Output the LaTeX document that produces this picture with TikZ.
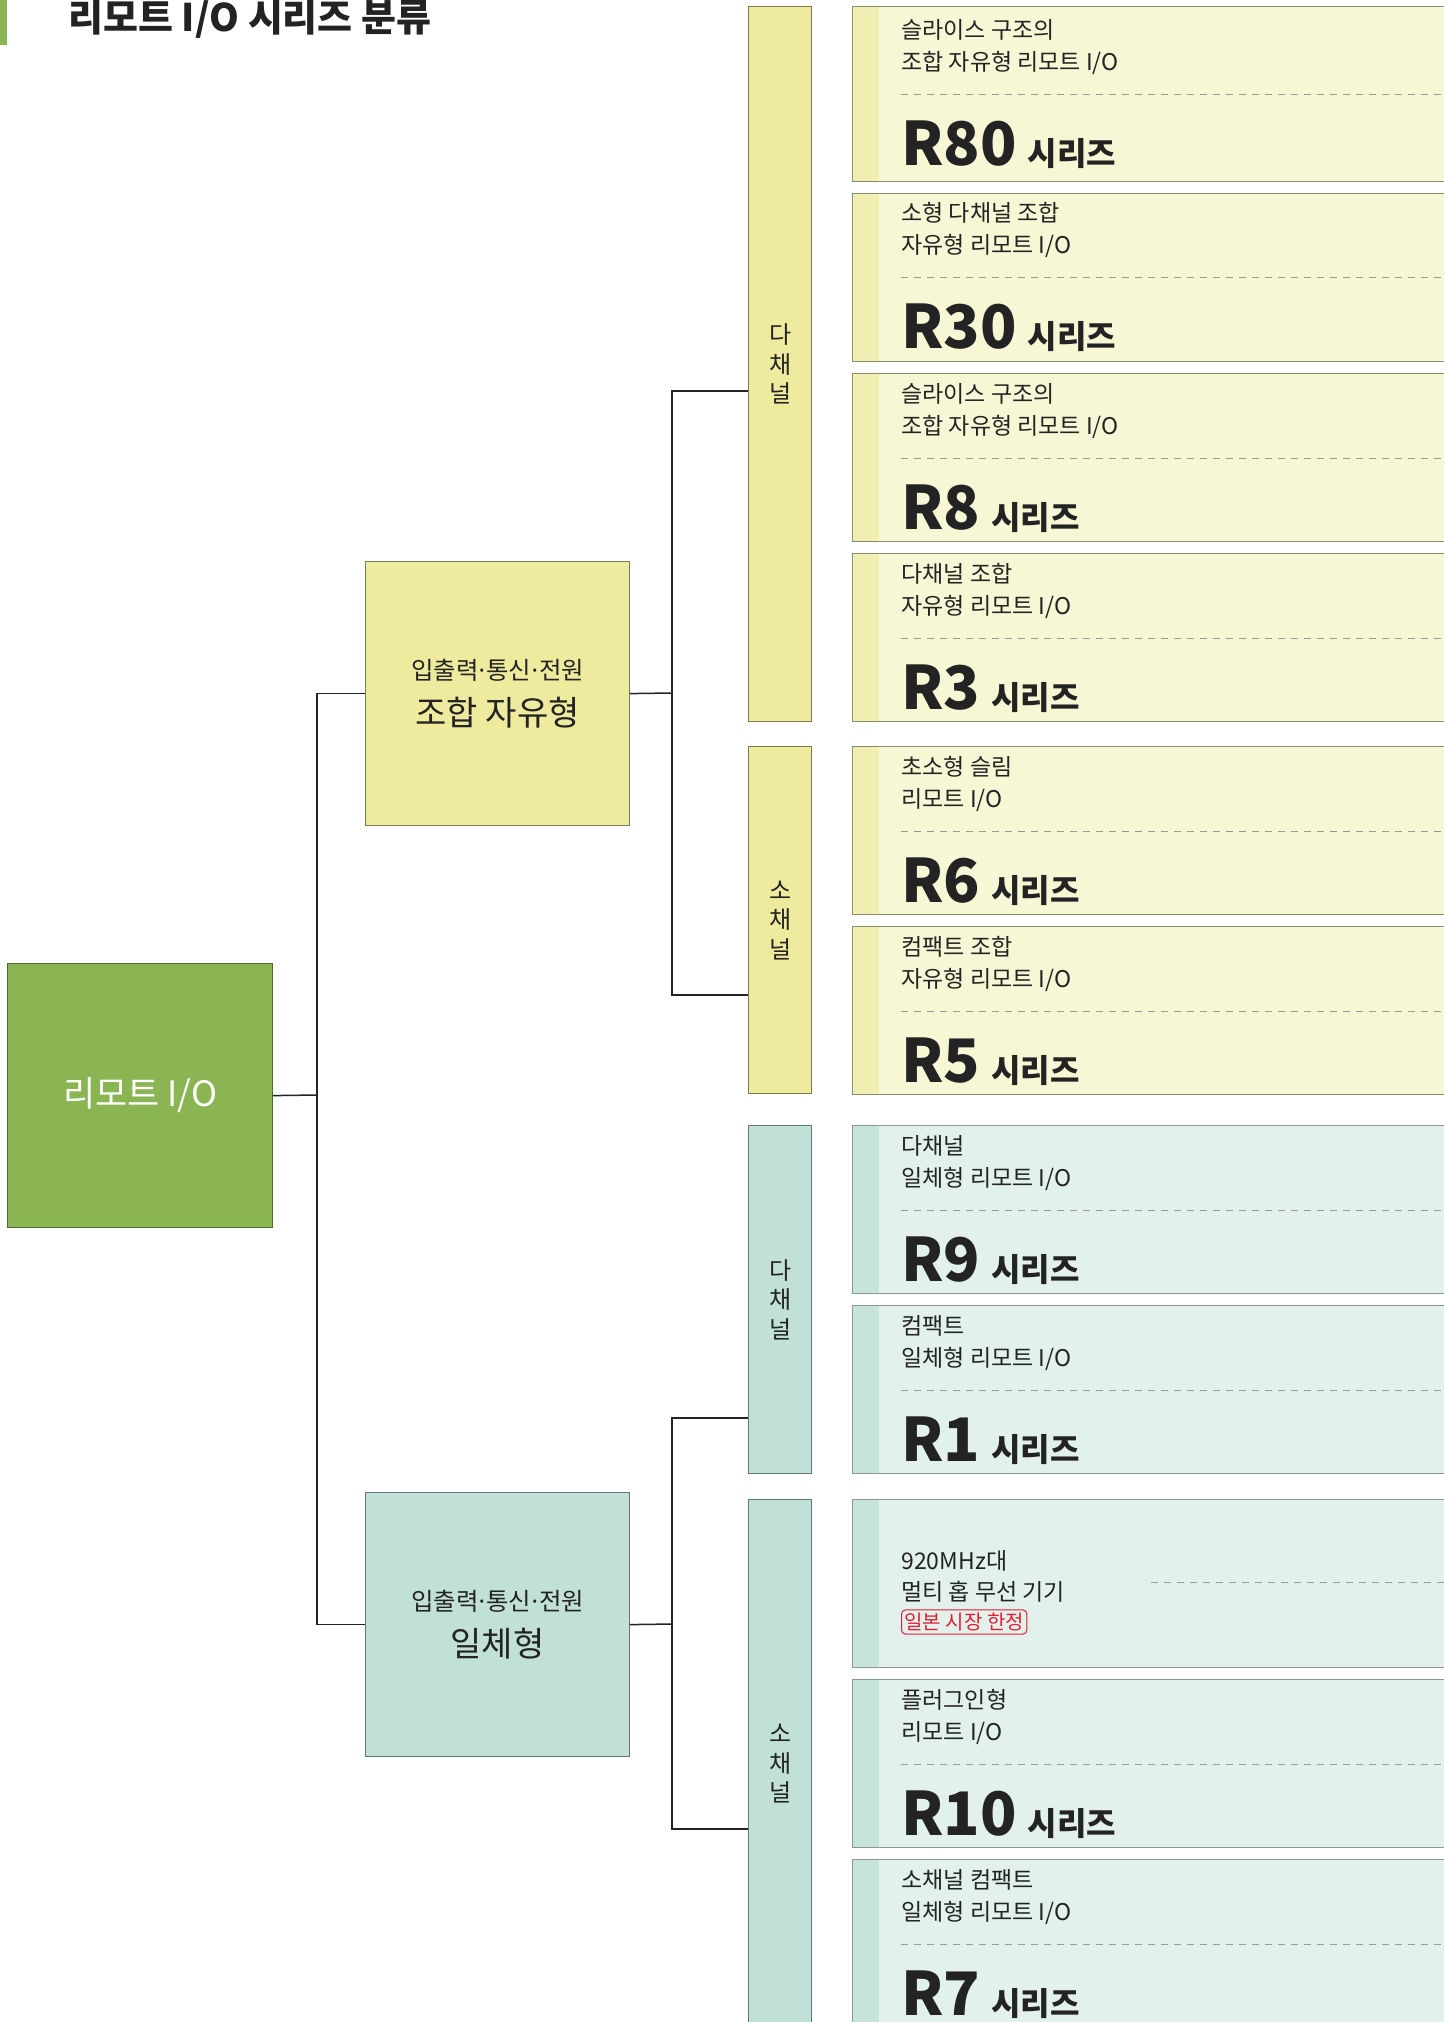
\documentclass[tikz,border=0pt]{standalone}
\usepackage{fontspec}
\setmainfont{Noto Sans CJK KR}
\usetikzlibrary{positioning}

\definecolor{ink}{RGB}{35,35,35}
\definecolor{rootgreen}{RGB}{139,181,82}
\definecolor{rootedge}{RGB}{78,106,45}
\definecolor{ybox}{RGB}{238,235,158}
\definecolor{yedge}{RGB}{122,122,84}
\definecolor{yfill}{RGB}{247,247,214}
\definecolor{ystrip}{RGB}{240,238,176}
\definecolor{ycard}{RGB}{140,140,108}
\definecolor{tbox}{RGB}{193,225,216}
\definecolor{tedge}{RGB}{96,120,113}
\definecolor{tfill}{RGB}{226,241,236}
\definecolor{tstrip}{RGB}{199,228,219}
\definecolor{tcard}{RGB}{140,150,146}
\definecolor{tagred}{RGB}{228,30,50}

\newcommand{\mdot}{\kern-0.12em·\kern-0.12em}

\tikzset{card/.style={anchor=north west, minimum width=330pt, inner sep=0pt, line width=0.6pt,
    fill=#1fill, draw=#1card,
    path picture={\fill[#1strip] (path picture bounding box.north west) rectangle ([xshift=13pt]path picture bounding box.south west);}}}

% one series card: name, top, height, line 1, line 2, series, colour set
\newcommand{\seriescard}[7]{%
  \pgfmathsetmacro{\cardh}{#3/2}%
  \pgfmathsetmacro{\reftop}{#2+(#3-168)/2}%
  \node[card=#7, minimum height=\cardh pt] (#1) at (852,#2) {};
  \node[cardtext] (#1a) at (901,\reftop+29) {#4};
  \node[cardtext] (#1b) at (901,\reftop+61) {#5};
  \draw[sep] (901,\reftop+85) -- (1460,\reftop+85);
  \node[seriestext] (#1s) at (901,\reftop+156) {{\fontsize{30}{30}\selectfont #6}\hspace{5.5pt}{\fontsize{16}{16}\selectfont 시리즈}};
}

\begin{document}
\begin{tikzpicture}[x=0.5pt,y=-0.5pt]
  \tikzstyle{conn}=[draw=ink, line width=0.75pt]
  \tikzstyle{sep}=[draw=black!40, line width=0.5pt, dash pattern=on 3.5pt off 3pt]
  \tikzstyle{rootbox}=[anchor=north west, minimum width=132.5pt, minimum height=132pt, inner sep=0pt,
      fill=rootgreen, draw=rootedge, line width=0.6pt, text=white, font=\fontsize{17.5}{20}\selectfont]
  \tikzstyle{groupbox}=[anchor=north west, minimum width=132pt, minimum height=132pt, inner sep=0pt,
      line width=0.6pt, align=center, text=ink, font=\fontsize{12.2}{16}\selectfont]
  \tikzstyle{chanbar}=[anchor=north west, minimum width=31.5pt, inner sep=0pt, line width=0.6pt,
      align=center, text=ink, font=\fontsize{12}{14.75}\selectfont]
  \tikzstyle{cardtext}=[anchor=base west, inner sep=0pt, text=ink, font=\fontsize{11.5}{11.5}\selectfont]
  \tikzstyle{seriestext}=[anchor=base west, inner sep=0pt, text=ink, font=\bfseries]
  \tikzstyle{redtag}=[anchor=west, draw=tagred, text=tagred, rounded corners=2pt, line width=0.5pt,
      inner xsep=1.5pt, inner ysep=1.5pt, font=\fontsize{10}{10}\selectfont]

  \useasboundingbox (0,0) rectangle (1444,2022);

  % title
  \fill[rootgreen] (0,0) rectangle (7,45);
  \node[anchor=base west, inner sep=0pt, text=ink, font=\bfseries\fontsize{19}{19}\selectfont] (title) at (68,32) {리모트 I/O 시리즈 분류};

  % root and the two kinds
  \node[rootbox] (root) at (7,963) {리모트 I/O};
  \node[groupbox, fill=ybox, draw=yedge] (free) at (365,561) {입출력\mdot 통신\mdot 전원\\[7pt]\fontsize{17}{20}\selectfont 조합 자유형};
  \node[groupbox, fill=tbox, draw=tedge] (mono) at (365,1492) {입출력\mdot 통신\mdot 전원\\[7pt]\fontsize{17}{20}\selectfont 일체형};

  % channel bars
  \node[chanbar, fill=ybox, draw=yedge, minimum height=357.5pt] (fmulti) at (748,6) {다\\채\\널};
  \node[chanbar, fill=ybox, draw=yedge, minimum height=173.5pt] (fsmall) at (748,746) {소\\채\\널};
  \node[chanbar, fill=tbox, draw=tedge, minimum height=174pt] (mmulti) at (748,1125) {다\\채\\널};
  \node[chanbar, fill=tbox, draw=tedge, minimum height=264pt] (msmall) at (748,1499) {소\\채\\널};

  % connectors
  \coordinate (j0) at (317,1095);
  \draw[conn] (root.east) -- (j0);
  \draw[conn] (free.west) -| (j0);
  \draw[conn] (mono.west) -| (j0);
  \coordinate (j1) at (672,693);
  \coordinate (j2) at (672,1624);
  \draw[conn] (free.east) -- (j1);
  \draw[conn] (mono.east) -- (j2);
  \coordinate (c1) at (fmulti.west |- 0,391);
  \coordinate (c2) at (fsmall.west |- 0,995);
  \coordinate (c3) at (mmulti.west |- 0,1418);
  \coordinate (c4) at (msmall.west |- 0,1829);
  \draw[conn] (c1) -| (j1);
  \draw[conn] (c2) -| (j1);
  \draw[conn] (c3) -| (j2);
  \draw[conn] (c4) -| (j2);

  % series cards
  \seriescard{r80}{6}{175}{슬라이스 구조의}{조합 자유형 리모트 I/O}{R80}{y}
  \seriescard{r30}{193}{168}{소형 다채널 조합}{자유형 리모트 I/O}{R30}{y}
  \seriescard{r8}{373}{168}{슬라이스 구조의}{조합 자유형 리모트 I/O}{R8}{y}
  \seriescard{r3}{553}{168}{다채널 조합}{자유형 리모트 I/O}{R3}{y}
  \seriescard{r6}{746}{168}{초소형 슬림}{리모트 I/O}{R6}{y}
  \seriescard{r5}{926}{168}{컴팩트 조합}{자유형 리모트 I/O}{R5}{y}
  \seriescard{r9}{1125}{168}{다채널}{일체형 리모트 I/O}{R9}{t}
  \seriescard{r1}{1305}{168}{컴팩트}{일체형 리모트 I/O}{R1}{t}

  \node[card=t, minimum height=84pt] (wl) at (852,1499) {};
  \node[cardtext] (wla) at (901,1569) {920MHz대};
  \node[cardtext] (wlb) at (901,1600) {멀티 홉 무선 기기};
  \node[redtag] (wlc) at (901,1622) {일본 시장 한정};
  \draw[sep] (1151,1582) -- (1460,1582);

  \seriescard{r10}{1679}{168}{플러그인형}{리모트 I/O}{R10}{t}
  \seriescard{r7}{1859}{168}{소채널 컴팩트}{일체형 리모트 I/O}{R7}{t}
\end{tikzpicture}
\end{document}
